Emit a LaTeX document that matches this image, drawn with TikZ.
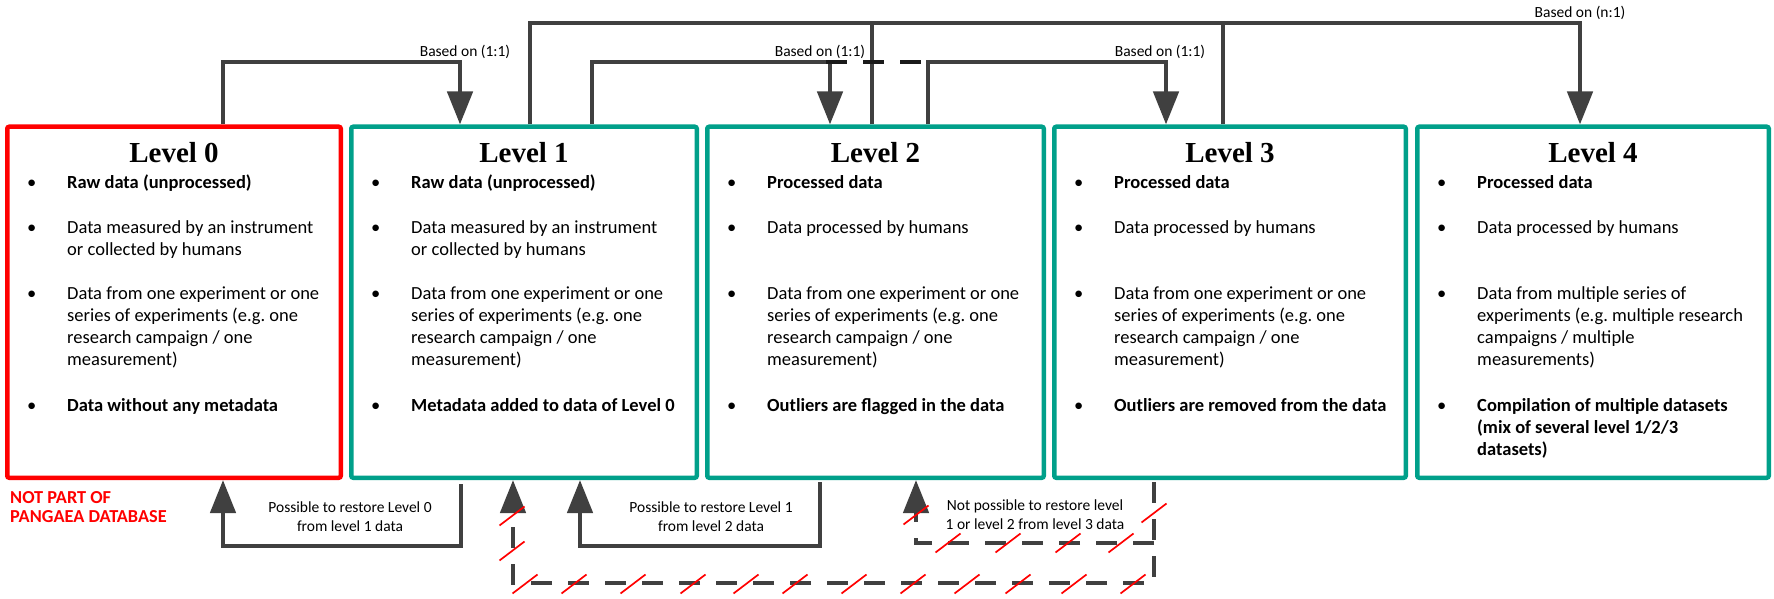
\documentclass[tikz,border=0pt]{standalone}
\usepackage{fontspec}
\setmainfont{Carlito}
\newfontfamily\serifbold{Liberation Serif}
\usetikzlibrary{arrows.meta,positioning}
\frenchspacing

\definecolor{boxteal}{RGB}{0,160,138}
\definecolor{boxred}{RGB}{255,0,0}
\definecolor{linegray}{RGB}{64,64,64}
\definecolor{dashblack}{RGB}{26,26,26}

\newcommand{\bitem}[1]{\makebox[40pt][l]{•}\parbox[t]{300pt}{\raggedright #1}}

\tikzset{
	levelbox/.style={draw, line width=4.5pt, rounded corners=2pt, minimum height=351pt, inner sep=0pt},
	leveltitle/.style={font=\serifbold\bfseries\fontsize{29}{32}\selectfont, inner sep=0pt},
	bulletitem/.style={anchor=base west, inner sep=0pt, font=\fontsize{18.5}{22.3}\selectfont},
	link/.style={draw=linegray, line width=4.6pt},
	dashlink/.style={link, dash pattern=on 21pt off 16pt},
	arrowhead/.style={-{Triangle[width=25pt,length=33pt]}},
	lbl/.style={font=\fontsize{15.5}{19}\selectfont, align=center, inner sep=0pt},
	redslash/.style={draw=boxred, line width=1.7pt},
}

\begin{document}
\begin{tikzpicture}[x=1pt,y=-1pt]
	\useasboundingbox (0,0) rectangle (1774,599);
	% level boxes and titles
	\foreach \n/\cx/\w/\c in {0/174/333.5/boxred, 1/524/345.5/boxteal, 2/875.5/336.5/boxteal, 3/1230/351.5/boxteal, 4/1593/351.5/boxteal}
	{
		\node[levelbox, draw=\c, minimum width=\w] (l\n) at (\cx,302.25) {};
		\node[leveltitle] (t\n) at (\cx,153) {Level \n};
	}
	% bullet lists
	\node[bulletitem] (i01) at (27,188) {\bitem{\textbf{Raw data (unprocessed)}}};
	\node[bulletitem] (i11) at (371,188) {\bitem{\textbf{Raw data (unprocessed)}}};
	\foreach \x/\n in {27/0, 371/1}
	{
		\node[bulletitem] (i\n2) at (\x,233) {\bitem{Data measured by an instrument\\or collected by humans}};
		\node[bulletitem] (i\n3) at (\x,299) {\bitem{Data from one experiment or one\\series of experiments (e.g. one\\research campaign / one\\measurement)}};
	}
	\node[bulletitem] (i04) at (27,411) {\bitem{\textbf{Data without any metadata}}};
	\node[bulletitem] (i14) at (371,411) {\bitem{\textbf{Metadata added to data of Level 0}}};
	\foreach \x/\n in {727/2, 1074/3}
	{
		\node[bulletitem] (i\n1) at (\x,188) {\bitem{\textbf{Processed data}}};
		\node[bulletitem] (i\n2) at (\x,233) {\bitem{Data processed by humans}};
		\node[bulletitem] (i\n3) at (\x,299) {\bitem{Data from one experiment or one\\series of experiments (e.g. one\\research campaign / one\\measurement)}};
	}
	\node[bulletitem] (i24) at (727,411) {\bitem{\textbf{Outliers are flagged in the data}}};
	\node[bulletitem] (i34) at (1074,411) {\bitem{\textbf{Outliers are removed from the data}}};
	\node[bulletitem] (i41) at (1437,188) {\bitem{\textbf{Processed data}}};
	\node[bulletitem] (i42) at (1437,233) {\bitem{Data processed by humans}};
	\node[bulletitem] (i43) at (1437,299) {\bitem{Data from multiple series of\\experiments (e.g. multiple research\\campaigns / multiple\\measurements)}};
	\node[bulletitem] (i44) at (1437,411) {\bitem{\textbf{Compilation of multiple datasets\\(mix of several level 1/2/3\\datasets)}}};
	\node[anchor=west, align=left, inner sep=0pt, text=boxred, font=\bfseries\fontsize{18.3}{19}\selectfont] (np) at (10,507.5) {NOT PART OF\\PANGAEA DATABASE};
	
	% based on links
	\draw[link,arrowhead] ([xshift=49pt]l0.north) -- ++(0,-62.5) -| ([xshift=-64pt]l1.north);
	\draw[link,arrowhead] ([xshift=68pt]l1.north) -- ++(0,-62.5) -| ([xshift=-45.5pt]l2.north);
	\draw[link,arrowhead] ([xshift=52.5pt]l2.north) -- ++(0,-62.5) -| ([xshift=-64pt]l3.north);
	\draw[link,arrowhead] ([xshift=6pt]l1.north) -- ++(0,-101.5) -| ([xshift=-13pt]l4.north);
	\draw[link] ([xshift=-3.5pt]l2.north) -- ++(0,-103.8);
	\draw[link] ([xshift=-7pt]l3.north) -- ++(0,-103.8);
	\draw[link, draw=dashblack, dash pattern=on 21pt off 16pt] ([xshift=-49.5pt]l2.north) ++(0,-62.5) -- ++(100,0);
	\node[lbl] (b0) at (465,52) {Based on (1:1)};
	\node[lbl] (b1) at (820,52) {Based on (1:1)};
	\node[lbl] (b2) at (1160,52) {Based on (1:1)};
	\node[lbl] (bn) at (1580,13) {Based on (n:1)};
	
	% restore links
	\draw[link,arrowhead] ([xshift=-63pt]l1.south) ++(0,4) -- ++(0,62) -| ([xshift=49pt]l0.south);
	\draw[link,arrowhead] ([xshift=-55.5pt]l2.south) ++(0,2) -- ++(0,64) -| ([xshift=56pt]l1.south);
	\draw[dashlink,arrowhead] ([xshift=-76pt]l3.south) ++(0,2) -- ++(0,101) -| ([xshift=-11pt]l1.south);
	\draw[dashlink,arrowhead] ([xshift=-76pt]l3.south) ++(0,63) -| ([xshift=40.5pt]l2.south);
	\node[lbl] (r0) at (350,516.5) {Possible to restore Level 0\\from level 1 data};
	\node[lbl] (r1) at (711,516.5) {Possible to restore Level 1\\from level 2 data};
	\node[lbl] (r2) at (1035,514.5) {Not possible to restore level\\1 or level 2 from level 3 data};
	
	% crossed out
	\foreach \x/\y in {512/516, 512/551, 525/584, 574/584, 633/584, 693/584, 746/584, 795/584, 854/584, 913/584, 967/584, 1018/584, 1074/584, 1133/584, 948/543, 1008/543, 1068/543, 1121/543, 916/515, 1154/513}
	\draw[redslash] (\x,\y) ++(-12.5,9.5) -- ++(25,-19);
\end{tikzpicture}
\end{document}
